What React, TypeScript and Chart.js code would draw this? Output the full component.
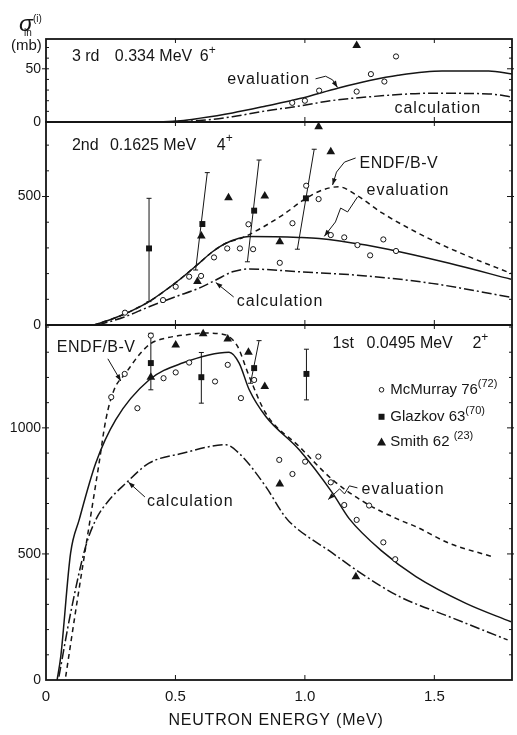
import { useEffect, useRef } from 'react';
import { Chart, registerables } from 'chart.js';

Chart.register(...registerables);

type Pt = [number, number];
// [energy at lower end, lower value, energy at upper end, upper value]
type Bar = [number, number, number, number];

// ---------- axes ----------
const ENERGY_MIN = 0;
const ENERGY_MAX = 1.8;
const ENERGY_TICKS = [0, 0.5, 1.0, 1.5];

const MB_MAX_3RD = 78;
const MB_MAX_2ND = 790;
const MB_MAX_1ST = 1408;
const MB_LABELS_3RD = [0, 50];
const MB_LABELS_2ND = [0, 500];
const MB_LABELS_1ST = [0, 500, 1000];

// ---------- 3rd level, 0.334 MeV 6+ ----------
const EVAL_3RD: Pt[] = [
  [0.42, 0], [0.52, 1.2], [0.59, 3.4], [0.72, 8.5], [0.85, 15], [0.98, 22],
  [1.13, 32], [1.25, 39], [1.36, 44], [1.53, 48], [1.71, 48], [1.8, 45],
];
const CALC_3RD: Pt[] = [
  [0.44, 0], [0.59, 1.3], [0.72, 5], [0.85, 10.5], [0.98, 15], [1.1, 20],
  [1.24, 23.5], [1.49, 27], [1.71, 26.4], [1.8, 23.5],
];
const MCMURRAY_3RD: Pt[] = [
  [0.951, 18], [1.0, 20], [1.055, 29.5], [1.2, 28.6], [1.255, 45], [1.307, 38], [1.352, 61.6],
];
const SMITH_3RD: Pt[] = [[1.2, 72]];

// ---------- 2nd level, 0.1625 MeV 4+ ----------
const EVAL_2ND: Pt[] = [
  [0.185, 0], [0.26, 25], [0.33, 55], [0.398, 91], [0.514, 175], [0.591, 240],
  [0.643, 285], [0.695, 318], [0.785, 344], [0.978, 341], [1.055, 337],
  [1.236, 311], [1.365, 285], [1.558, 240], [1.796, 178],
];
const ENDF_2ND: Pt[] = [
  [0.185, 0], [0.26, 25], [0.33, 55], [0.398, 91], [0.514, 175], [0.591, 240],
  [0.643, 285], [0.695, 318], [0.76, 340], [0.914, 428], [1.004, 493],
  [1.07, 526], [1.13, 538], [1.2, 505], [1.3, 435], [1.49, 331], [1.62, 272], [1.796, 201],
];
const CALC_2ND: Pt[] = [
  [0.2, 0], [0.3, 30], [0.398, 71], [0.5, 110], [0.59, 143], [0.656, 175],
  [0.72, 207], [0.785, 218], [0.978, 207], [1.236, 191], [1.49, 162], [1.796, 108],
];
const MCMURRAY_2ND: Pt[] = [
  [0.305, 48], [0.452, 97], [0.501, 149], [0.553, 188], [0.599, 191], [0.649, 263],
  [0.7, 298], [0.749, 298], [0.782, 392], [0.8, 295], [0.903, 242], [0.952, 396],
  [1.005, 542], [1.053, 490], [1.1, 350], [1.152, 341], [1.203, 311], [1.252, 271],
  [1.303, 333], [1.352, 288],
];
const GLAZKOV_2ND: Pt[] = [[0.398, 298], [0.604, 393], [0.804, 445], [1.004, 493]];
const GLAZKOV_2ND_ERR: Bar[] = [
  [0.398, 91, 0.398, 493], [0.578, 214, 0.623, 593],
  [0.778, 246, 0.823, 642], [0.971, 295, 1.036, 684],
];
const SMITH_2ND: Pt[] = [
  [0.585, 169], [0.6, 346], [0.705, 495], [0.845, 502], [0.903, 324], [1.053, 772], [1.1, 674],
];

// ---------- 1st level, 0.0495 MeV 2+ ----------
const EVAL_1ST: Pt[] = [
  [0.043, 0], [0.057, 93], [0.095, 503], [0.128, 635], [0.192, 860], [0.269, 1032],
  [0.398, 1190], [0.527, 1257], [0.707, 1300], [0.746, 1257], [0.785, 1151],
  [0.849, 1045], [0.978, 913], [1.107, 741], [1.171, 640], [1.3, 509],
  [1.429, 410], [1.622, 304], [1.796, 231],
];
const ENDF_1ST: Pt[] = [
  [0.076, 13], [0.12, 310], [0.166, 608], [0.205, 860], [0.231, 1032], [0.263, 1151],
  [0.308, 1217], [0.36, 1290], [0.405, 1335], [0.463, 1356], [0.55, 1370],
  [0.617, 1376], [0.68, 1372], [0.707, 1362], [0.74, 1323], [0.785, 1204],
  [0.849, 1058], [0.978, 926], [1.107, 794], [1.236, 701], [1.365, 635],
  [1.429, 608], [1.558, 542], [1.725, 489],
];
const CALC_1ST: Pt[] = [
  [0.05, 13], [0.095, 265], [0.153, 529], [0.192, 635], [0.244, 714], [0.308, 780],
  [0.398, 860], [0.527, 899], [0.695, 933], [0.746, 899], [0.849, 767], [0.914, 661],
  [0.94, 628], [1.107, 503], [1.236, 410], [1.365, 331], [1.558, 251], [1.783, 159],
];
const MCMURRAY_1ST: Pt[] = [
  [0.252, 1122], [0.304, 1214], [0.353, 1078], [0.405, 1366], [0.454, 1197],
  [0.501, 1220], [0.553, 1259], [0.653, 1184], [0.702, 1250], [0.753, 1118],
  [0.804, 1190], [0.901, 873], [0.952, 817], [1.001, 866], [1.052, 886],
  [1.1, 784], [1.152, 694], [1.2, 635], [1.248, 692], [1.303, 546], [1.349, 479],
];
const GLAZKOV_1ST: Pt[] = [[0.405, 1257], [0.6, 1201], [0.804, 1237], [1.006, 1214]];
const GLAZKOV_1ST_ERR: Bar[] = [
  [0.405, 1151, 0.405, 1375], [0.6, 1098, 0.6, 1299],
  [0.79, 1177, 0.823, 1346], [1.006, 1111, 1.006, 1312],
];
const SMITH_1ST: Pt[] = [
  [0.405, 1201], [0.501, 1329], [0.607, 1373], [0.702, 1352], [0.782, 1300],
  [0.845, 1164], [0.903, 777], [1.197, 410],
];

// ---------- drawing ----------
const INK = '#151515';
const FONT = "'Liberation Sans', Arial, Helvetica, sans-serif";
const DASH: number[] = [5, 4];
const DASH_DOT: number[] = [10, 3, 2, 3];

const toXY = (pts: Pt[]) => pts.map(([x, y]) => ({ x, y }));
const barsXY = (bars: Bar[]) =>
  bars.flatMap(([e0, lo, e1, hi]) => [
    { x: e0, y: lo },
    { x: e1, y: hi },
    { x: e1, y: null as number | null },
  ]);

const curve = (pts: Pt[], axis: string, dash: number[]) => ({
  type: 'line' as const,
  data: toXY(pts),
  yAxisID: axis,
  borderColor: INK,
  borderWidth: 1.5,
  borderDash: dash,
  pointRadius: 0,
  fill: false,
  cubicInterpolationMode: 'monotone' as const,
});

const mcmurray = (pts: Pt[], axis: string) => ({
  type: 'line' as const,
  data: toXY(pts),
  yAxisID: axis,
  showLine: false,
  pointStyle: 'circle',
  pointRadius: 2.6,
  pointBorderWidth: 1,
  pointBorderColor: INK,
  pointBackgroundColor: '#fff',
});
const glazkov = (pts: Pt[], axis: string) => ({
  type: 'line' as const,
  data: toXY(pts),
  yAxisID: axis,
  showLine: false,
  pointStyle: 'rect',
  pointRadius: 4.2,
  pointBorderWidth: 0,
  pointBackgroundColor: INK,
});
const smith = (pts: Pt[], axis: string) => ({
  type: 'line' as const,
  data: toXY(pts),
  yAxisID: axis,
  showLine: false,
  pointStyle: 'triangle',
  pointRadius: 5,
  pointBorderWidth: 0,
  pointBackgroundColor: INK,
});
const errorBars = (bars: Bar[], axis: string) => ({
  type: 'line' as const,
  data: barsXY(bars),
  yAxisID: axis,
  borderColor: INK,
  borderWidth: 1,
  tension: 0,
  spanGaps: false,
  pointStyle: 'line',
  pointRadius: 2.5,
  pointBorderWidth: 1,
  pointBorderColor: INK,
});

const PANELS: { id: string; major: number }[] = [
  { id: 'y3', major: 50 },
  { id: 'y2', major: 500 },
  { id: 'y1', major: 500 },
];

function setFont(ctx: CanvasRenderingContext2D, size: number, italic = false, spacing = 0) {
  ctx.font = `${italic ? 'italic ' : ''}${size}px ${FONT}`;
  (ctx as any).letterSpacing = `${spacing}px`;
}

// draws a run of text pieces; each piece: [text, size, raise, italic, spacing]
function run(
  ctx: CanvasRenderingContext2D,
  x: number,
  y: number,
  pieces: [string, number, number?, boolean?, number?][],
) {
  let cx = x;
  for (const [t, size, raise = 0, italic = false, spacing = 0] of pieces) {
    setFont(ctx, size, italic, spacing);
    ctx.fillText(t, cx, y - raise);
    cx += ctx.measureText(t).width;
  }
  return cx;
}

function arrow(ctx: CanvasRenderingContext2D, pts: number[][]) {
  ctx.beginPath();
  pts.forEach(([x, y], i) => (i ? ctx.lineTo(x, y) : ctx.moveTo(x, y)));
  ctx.stroke();
  const [x1, y1] = pts[pts.length - 2];
  const [x2, y2] = pts[pts.length - 1];
  const a = Math.atan2(y2 - y1, x2 - x1);
  const L = 7;
  const W = 0.35;
  ctx.beginPath();
  ctx.moveTo(x2, y2);
  ctx.lineTo(x2 - L * Math.cos(a - W), y2 - L * Math.sin(a - W));
  ctx.lineTo(x2 - L * Math.cos(a + W), y2 - L * Math.sin(a + W));
  ctx.closePath();
  ctx.fill();
}

const decor = {
  id: 'panelDecor',
  afterDraw(chart: any) {
    const ctx: CanvasRenderingContext2D = chart.ctx;
    const xs = chart.scales.x;
    const { left, right, bottom } = chart.chartArea;
    const P = (axis: string, e: number, v: number) => [
      xs.getPixelForValue(e),
      chart.scales[axis].getPixelForValue(v),
    ];

    ctx.save();
    ctx.strokeStyle = INK;
    ctx.fillStyle = INK;

    // panel frames and tick marks
    for (const p of PANELS) {
      const s = chart.scales[p.id];
      ctx.lineWidth = 1.8;
      ctx.strokeRect(left, s.top, right - left, s.bottom - s.top);
      ctx.lineWidth = 1;
      ctx.beginPath();
      for (const t of s.ticks) {
        const y = s.getPixelForValue(t.value);
        if (y <= s.top + 1 || y >= s.bottom - 1) continue;
        const major = t.value % p.major === 0;
        ctx.moveTo(left - (major ? 4 : 0), y);
        ctx.lineTo(left + 3, y);
        ctx.moveTo(right - (major ? 5 : 3), y);
        ctx.lineTo(right + (major ? 2 : 0), y);
      }
      for (const e of ENERGY_TICKS) {
        if (e === 0) continue;
        const x = xs.getPixelForValue(e);
        ctx.moveTo(x, s.top);
        ctx.lineTo(x, s.top + 4);
        ctx.moveTo(x, s.bottom);
        ctx.lineTo(x, s.bottom - 5);
      }
      ctx.stroke();
    }

    ctx.textBaseline = 'middle';
    ctx.textAlign = 'left';
    ctx.lineWidth = 1;

    // level captions
    let [x, y] = P('y3', 0.1, 61);
    run(ctx, x, y, [['3 rd', 16]]);
    x = P('y3', 0.266, 0)[0];
    run(ctx, x, y, [['0.334 MeV', 16]]);
    x = P('y3', 0.594, 0)[0];
    run(ctx, x, y, [['6', 16], ['+', 12, 6]]);

    [x, y] = P('y2', 0.1, 700);
    run(ctx, x, y, [['2nd', 16]]);
    x = P('y2', 0.247, 0)[0];
    run(ctx, x, y, [['0.1625 MeV', 16]]);
    x = P('y2', 0.66, 0)[0];
    run(ctx, x, y, [['4', 16], ['+', 12, 6]]);

    [x, y] = P('y1', 1.107, 1333);
    run(ctx, x, y, [['1st', 16]]);
    x = P('y1', 1.238, 0)[0];
    run(ctx, x, y, [['0.0495 MeV', 16]]);
    x = P('y1', 1.647, 0)[0];
    run(ctx, x, y, [['2', 16], ['+', 12, 6]]);

    // curve labels
    [x, y] = P('y3', 0.7, 40);
    run(ctx, x, y, [['evaluation', 16, 0, false, 1]]);
    arrow(ctx, [P('y3', 1.041, 40.6), P('y3', 1.08, 43), P('y3', 1.107, 39.6), P('y3', 1.126, 32.5)]);
    [x, y] = P('y3', 1.346, 13);
    run(ctx, x, y, [['calculation', 16, 0, false, 1]]);

    [x, y] = P('y2', 1.211, 630);
    run(ctx, x, y, [['ENDF/B-V', 16, 0, false, 0.5]]);
    arrow(ctx, [P('y2', 1.196, 650), P('y2', 1.153, 634), P('y2', 1.122, 595), P('y2', 1.107, 545)]);
    [x, y] = P('y2', 1.238, 525);
    run(ctx, x, y, [['evaluation', 16, 0, false, 1]]);
    arrow(ctx, [P('y2', 1.203, 498), P('y2', 1.165, 440), P('y2', 1.138, 455), P('y2', 1.118, 401), P('y2', 1.075, 345)]);
    [x, y] = P('y2', 0.737, 90);
    run(ctx, x, y, [['calculation', 16, 0, false, 1]]);
    arrow(ctx, [P('y2', 0.725, 109), P('y2', 0.656, 165)]);

    [x, y] = P('y1', 0.042, 1317);
    run(ctx, x, y, [['ENDF/B-V', 16, 0, false, 0.5]]);
    arrow(ctx, [P('y1', 0.239, 1274), P('y1', 0.289, 1186)]);
    [x, y] = P('y1', 0.39, 706);
    run(ctx, x, y, [['calculation', 16, 0, false, 1]]);
    arrow(ctx, [P('y1', 0.382, 726), P('y1', 0.318, 785)]);
    [x, y] = P('y1', 1.219, 754);
    run(ctx, x, y, [['evaluation', 16, 0, false, 1]]);
    arrow(ctx, [P('y1', 1.203, 762), P('y1', 1.172, 770), P('y1', 1.153, 738), P('y1', 1.134, 758), P('y1', 1.09, 716)]);

    // legend
    const legendRows: [string, string, string][] = [
      ['circle', 'McMurray 76', '(72)'],
      ['rect', 'Glazkov 63', '(70)'],
      ['triangle', 'Smith 62 ', '(23)'],
    ];
    const rowValues = [1151, 1044, 944];
    legendRows.forEach(([shape, name, ref], i) => {
      const [sx, sy] = P('y1', 1.296, rowValues[i]);
      ctx.beginPath();
      if (shape === 'circle') {
        ctx.arc(sx, sy, 2.3, 0, Math.PI * 2);
        ctx.stroke();
      } else if (shape === 'rect') {
        ctx.fillRect(sx - 3, sy - 3, 6, 6);
      } else {
        ctx.moveTo(sx, sy - 4.5);
        ctx.lineTo(sx + 4.5, sy + 3.5);
        ctx.lineTo(sx - 4.5, sy + 3.5);
        ctx.closePath();
        ctx.fill();
      }
      const tx = P('y1', 1.33, 0)[0];
      run(ctx, tx, sy, [[name, 15], [ref, 11, 6]]);
    });

    // y-axis quantity and unit
    ctx.textAlign = 'left';
    ctx.textBaseline = 'alphabetic';
    run(ctx, left - 27, 31, [['σ', 23, 0, true]]);
    run(ctx, left - 22, 36, [['in', 10]]);
    run(ctx, left - 13, 22, [['(i)', 10]]);
    ctx.textBaseline = 'middle';
    run(ctx, left - 35, 46, [['(mb)', 15]]);

    // energy axis title
    ctx.textAlign = 'center';
    setFont(ctx, 16, false, 0.8);
    ctx.fillText('NEUTRON ENERGY (MeV)', (left + right) / 2 - 3, bottom + 41);

    ctx.restore();
  },
};

function yAxis(max: number, weight: number, step: number, labels: number[]) {
  return {
    type: 'linear' as const,
    position: 'left' as const,
    stack: 'panels',
    stackWeight: weight,
    min: 0,
    max,
    offset: false,
    grid: { display: false, drawTicks: false },
    border: { display: false },
    // minor marks every `step`, labelled only at the listed values
    afterBuildTicks: (s: any) => {
      const ticks: { value: number }[] = [];
      for (let k = 0; k * step <= max; k++) ticks.push({ value: k * step });
      s.ticks = ticks;
    },
    ticks: {
      autoSkip: false,
      padding: 5,
      color: INK,
      font: { family: FONT, size: 14 },
      callback: (v: number) => (labels.includes(v) ? String(v) : ''),
    },
    afterFit: (s: any) => {
      s.width = 46;
    },
  };
}

export default function App() {
  const ref = useRef<HTMLCanvasElement>(null);

  useEffect(() => {
    const canvas = ref.current;
    if (!canvas) return;
    const chart = new Chart(canvas, {
      type: 'line',
      data: {
        datasets: [
          // markers on top
          glazkov(GLAZKOV_2ND, 'y2'),
          glazkov(GLAZKOV_1ST, 'y1'),
          smith(SMITH_3RD, 'y3'),
          smith(SMITH_2ND, 'y2'),
          smith(SMITH_1ST, 'y1'),
          mcmurray(MCMURRAY_3RD, 'y3'),
          mcmurray(MCMURRAY_2ND, 'y2'),
          mcmurray(MCMURRAY_1ST, 'y1'),
          errorBars(GLAZKOV_2ND_ERR, 'y2'),
          errorBars(GLAZKOV_1ST_ERR, 'y1'),
          // curves
          curve(EVAL_3RD, 'y3', []),
          curve(CALC_3RD, 'y3', DASH_DOT),
          curve(ENDF_2ND, 'y2', DASH),
          curve(EVAL_2ND, 'y2', []),
          curve(CALC_2ND, 'y2', DASH_DOT),
          curve(ENDF_1ST, 'y1', DASH),
          curve(EVAL_1ST, 'y1', []),
          curve(CALC_1ST, 'y1', DASH_DOT),
        ] as any,
      },
      options: {
        responsive: false,
        animation: false,
        devicePixelRatio: 1,
        layout: { padding: { top: 39, right: 5, left: 0, bottom: 0 } },
        plugins: { legend: { display: false }, tooltip: { enabled: false } },
        scales: {
          x: {
            type: 'linear',
            min: ENERGY_MIN,
            max: ENERGY_MAX,
            grid: { display: false, drawTicks: false },
            border: { display: false },
            afterBuildTicks: (s: any) => {
              s.ticks = ENERGY_TICKS.map((value) => ({ value }));
            },
            ticks: {
              autoSkip: false,
              maxRotation: 0,
              padding: 8,
              color: INK,
              font: { family: FONT, size: 15 },
              callback: (v: number) => (v === 0 ? '0' : v.toFixed(1)),
            },
            afterFit: (s: any) => {
              s.height = 55;
            },
          },
          y1: yAxis(MB_MAX_1ST, 355, 100, MB_LABELS_1ST),
          y2: yAxis(MB_MAX_2ND, 203, 100, MB_LABELS_2ND),
          y3: yAxis(MB_MAX_3RD, 83, 10, MB_LABELS_3RD),
        } as any,
      },
      plugins: [decor],
    });
    return () => chart.destroy();
  }, []);

  return (
    <div
      style={{
        position: 'absolute',
        left: 0,
        top: 0,
        width: 517,
        height: 735,
        background: '#fff',
      }}
    >
      <canvas ref={ref} width={517} height={735} style={{ display: 'block', width: 517, height: 735 }} />
    </div>
  );
}
